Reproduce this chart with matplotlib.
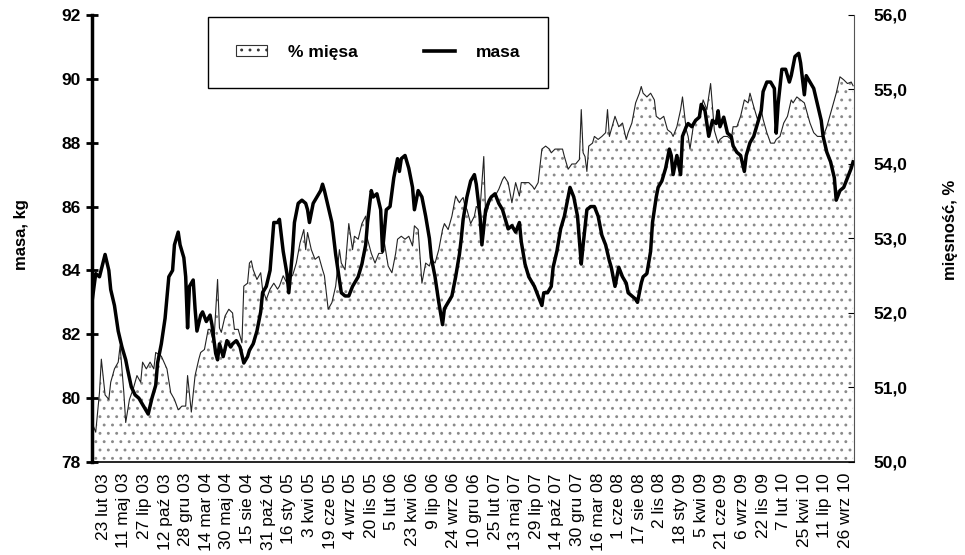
import matplotlib
matplotlib.use("Agg")
import matplotlib.pyplot as plt
from matplotlib.patches import Patch
from matplotlib.lines import Line2D
from matplotlib.ticker import FuncFormatter

plt.rcParams['font.family'] = ['Liberation Sans', 'DejaVu Sans']
plt.rcParams['hatch.linewidth'] = 0.9

# weekly series (week 0 = 12 Jan 2003)
masa_weeks = [0, 2, 4, 7, 9, 10, 12, 14, 16, 18, 19, 21, 23, 25, 27, 28, 30, 32, 34, 35,
              37, 39, 41, 43, 44, 46, 47, 49, 50, 51, 52, 54, 55, 56, 58, 59, 61, 63, 64, 66,
              67, 68, 70, 72, 74, 75, 77, 79, 81, 83, 84, 86, 88, 90, 91, 93, 95, 97, 99, 100,
              102, 104, 105, 107, 108, 110, 112, 114, 115, 116, 118, 120, 122, 123, 124, 126, 128, 130, 131, 132,
              133, 135, 137, 139, 140, 142, 144, 146, 147, 149, 150, 152, 154, 155, 157, 159, 161, 163, 164, 165,
              167, 169, 171, 172, 174, 176, 178, 180, 181, 183, 185, 187, 188, 190, 192, 194, 196, 197, 198, 200,
              202, 204, 205, 207, 208, 210, 212, 213, 215, 217, 219, 220, 222, 224, 226, 228, 229, 231, 233, 235,
              236, 238, 240, 241, 243, 245, 246, 248, 250, 252, 254, 255, 257, 259, 261, 262, 264, 266, 268, 270,
              272, 274, 276, 277, 279, 281, 283, 285, 286, 288, 290, 291, 293, 294, 296, 298, 299, 301, 302, 304,
              306, 308, 309, 310, 312, 314, 315, 317, 318, 320, 322, 324, 325, 327, 329, 331, 333, 334, 335, 337,
              339, 341, 342, 344, 346, 348, 349, 351, 353, 355, 357, 358, 360, 362, 364, 365, 366, 368, 370, 372,
              373, 375, 377, 378, 380, 381, 383, 385, 387, 389, 390, 392, 394, 396, 397, 399, 401, 403, 405, 406]
masa = [83.0, 83.9, 83.8, 84.5, 84.0, 83.4, 82.9, 82.1, 81.6, 81.2, 80.9, 80.35, 80.1, 80.0, 79.8, 79.7, 79.5, 80.0, 80.4, 81.1,
        81.7, 82.5, 83.8, 84.0, 84.8, 85.2, 84.8, 84.4, 83.8, 82.2, 83.5, 83.7, 82.8, 82.1, 82.6, 82.7, 82.4, 82.6, 82.3, 81.4,
        81.2, 81.7, 81.3, 81.8, 81.6, 81.7, 81.8, 81.6, 81.1, 81.3, 81.5, 81.7, 82.1, 82.7, 83.3, 83.5, 84.0, 85.5, 85.5, 85.6,
        84.6, 83.9, 83.3, 84.6, 85.5, 86.1, 86.2, 86.1, 85.9, 85.5, 86.1, 86.3, 86.5, 86.7, 86.5, 86.0, 85.5, 84.5, 84.1, 83.7,
        83.3, 83.2, 83.2, 83.5, 83.6, 83.8, 84.2, 84.8, 85.5, 86.5, 86.3, 86.4, 85.9, 84.6, 85.9, 86.0, 86.9, 87.5, 87.1, 87.5,
        87.6, 87.2, 86.6, 85.9, 86.5, 86.3, 85.7, 85.0, 84.4, 83.8, 83.0, 82.3, 82.8, 83.0, 83.2, 83.8, 84.5, 85.0, 85.6, 86.3,
        86.8, 87.0, 86.7, 85.7, 84.8, 85.9, 86.2, 86.3, 86.4, 86.1, 85.9, 85.7, 85.3, 85.4, 85.2, 85.5, 84.9, 84.2, 83.8, 83.6,
        83.5, 83.2, 82.9, 83.3, 83.3, 83.5, 84.1, 84.6, 85.3, 85.7, 86.3, 86.6, 86.3, 85.7, 84.2, 84.8, 85.9, 86.0, 86.0, 85.7,
        85.1, 84.8, 84.3, 84.1, 83.5, 84.1, 83.8, 83.6, 83.3, 83.2, 83.1, 83.0, 83.6, 83.8, 83.9, 84.6, 85.5, 86.3, 86.6, 86.8,
        87.2, 87.8, 87.6, 87.0, 87.6, 87.0, 88.2, 88.5, 88.6, 88.5, 88.7, 88.8, 89.2, 89.0, 88.2, 88.7, 88.6, 89.0, 88.5, 88.8,
        88.3, 88.2, 87.9, 87.7, 87.6, 87.1, 87.6, 88.0, 88.2, 88.6, 89.0, 89.6, 89.9, 89.9, 89.7, 88.3, 89.2, 90.3, 90.3, 89.9,
        90.1, 90.7, 90.8, 90.5, 89.5, 90.1, 89.9, 89.7, 89.2, 88.7, 88.2, 87.7, 87.4, 86.9, 86.2, 86.5, 86.6, 86.9, 87.2, 87.4]

miesa_weeks = [0, 2, 4, 5, 7, 9, 10, 12, 14, 15, 17, 18, 20, 22, 24, 26, 27, 29, 31, 33,
               34, 37, 40, 42, 44, 46, 48, 50, 51, 53, 55, 57, 58, 60, 62, 63, 65, 67, 68, 69,
               71, 73, 75, 76, 78, 80, 81, 83, 84, 85, 86, 88, 90, 91, 93, 95, 97, 99, 100, 102,
               104, 106, 107, 109, 111, 113, 114, 115, 117, 119, 121, 123, 124, 126, 128, 130, 131, 132, 133, 135,
               137, 139, 140, 142, 144, 146, 147, 149, 151, 153, 155, 156, 158, 160, 162, 163, 165, 167, 169, 171,
               172, 174, 176, 178, 180, 181, 183, 185, 187, 188, 190, 192, 194, 196, 197, 198, 199, 200, 202, 204,
               205, 207, 209, 210, 212, 213, 215, 217, 219, 220, 222, 224, 226, 228, 229, 231, 233, 235, 236, 238,
               240, 242, 244, 245, 247, 249, 251, 252, 254, 256, 258, 260, 261, 262, 263, 264, 265, 267, 268, 270,
               272, 274, 275, 276, 277, 279, 281, 283, 285, 286, 288, 290, 292, 293, 294, 296, 298, 300, 301, 303,
               305, 307, 309, 310, 312, 314, 315, 317, 318, 319, 321, 323, 325, 326, 328, 330, 332, 334, 335, 337,
               339, 341, 342, 344, 346, 348, 350, 351, 353, 355, 357, 358, 360, 362, 364, 365, 367, 369, 371, 373,
               374, 376, 378, 380, 381, 383, 385, 387, 389, 390, 392, 394, 396, 397, 399, 401, 403, 405, 406]
miesa = [50.53, 50.4, 50.93, 51.38, 50.9, 50.84, 51.07, 51.25, 51.34, 51.56, 50.93, 50.53, 50.84, 50.98, 51.16, 51.07, 51.34, 51.25, 51.34, 51.25,
         51.47, 51.42, 51.25, 50.93, 50.84, 50.7, 50.75, 50.75, 51.16, 50.67, 51.16, 51.38, 51.47, 51.51, 51.78, 51.78, 51.6, 52.45, 51.8, 51.74,
         51.96, 52.05, 52.0, 51.78, 51.78, 51.6, 52.36, 52.4, 52.67, 52.7, 52.58, 52.45, 52.54, 52.32, 52.18, 52.32, 52.4, 52.32, 52.36, 52.5,
         52.4, 52.5, 52.5, 52.67, 52.94, 53.12, 52.85, 53.08, 52.85, 52.72, 52.76, 52.58, 52.5, 52.05, 52.14, 52.36, 52.6, 52.85, 52.67, 52.58,
         53.2, 52.85, 53.03, 52.99, 53.2, 53.3, 52.99, 52.8, 52.67, 52.8, 52.8, 52.94, 52.63, 52.54, 52.8, 52.99, 53.03, 52.99, 53.03, 52.9,
         53.17, 53.12, 52.4, 52.67, 52.63, 52.72, 52.67, 52.85, 53.12, 53.2, 53.12, 53.3, 53.57, 53.48, 53.52, 53.55, 53.43, 53.39, 53.2, 53.3,
         53.43, 53.39, 54.1, 53.3, 53.48, 53.57, 53.57, 53.66, 53.79, 53.83, 53.75, 53.48, 53.75, 53.57, 53.75, 53.75, 53.75, 53.7, 53.66, 53.75,
         54.2, 54.24, 54.2, 54.15, 54.2, 54.2, 54.2, 54.1, 53.93, 54.0, 54.0, 54.06, 54.73, 54.15, 54.1, 53.9, 54.24, 54.28, 54.37, 54.33,
         54.37, 54.42, 54.73, 54.37, 54.46, 54.64, 54.5, 54.55, 54.33, 54.42, 54.55, 54.82, 54.95, 55.04, 54.95, 54.9, 54.95, 54.86, 54.64, 54.6,
         54.64, 54.46, 54.42, 54.37, 54.5, 54.73, 54.9, 54.46, 54.37, 54.2, 54.55, 54.6, 54.73, 54.86, 54.73, 55.08, 54.45, 54.28, 54.33, 54.37,
         54.37, 54.33, 54.5, 54.5, 54.64, 54.86, 54.82, 54.95, 54.77, 54.6, 54.73, 54.6, 54.42, 54.28, 54.28, 54.33, 54.37, 54.55, 54.64, 54.86,
         54.82, 54.9, 54.86, 54.82, 54.73, 54.55, 54.42, 54.37, 54.37, 54.37, 54.5, 54.68, 54.86, 54.95, 55.17, 55.13, 55.08, 55.1, 55.05]

tick_labels = ['23 lut 03', '11 maj 03', '27 lip 03', '12 paź 03', '28 gru 03', '14 mar 04', '30 maj 04',
               '15 sie 04', '31 paź 04', '16 sty 05', '3 kwi 05', '19 cze 05', '4 wrz 05', '20 lis 05',
               '5 lut 06', '23 kwi 06', '9 lip 06', '24 wrz 06', '10 gru 06', '25 lut 07', '13 maj 07',
               '29 lip 07', '14 paź 07', '30 gru 07', '16 mar 08', '1 cze 08', '17 sie 08', '2 lis 08',
               '18 sty 09', '5 kwi 09', '21 cze 09', '6 wrz 09', '22 lis 09', '7 lut 10', '25 kwi 10',
               '11 lip 10', '26 wrz 10']
tick_weeks = [6 + 11 * i for i in range(len(tick_labels))]

fig = plt.figure(figsize=(9.65, 5.55), dpi=100)
ax = fig.add_axes([0.0953, 0.1676, 0.7897, 0.8054])
ax2 = ax.twinx()

# % mięsa area on right axis
ax2.fill_between(miesa_weeks, 50, miesa, facecolor='white', edgecolor='#8a8a8a',
                 linewidth=0, hatch='..')
ax2.plot(miesa_weeks, miesa, color='#222222', lw=0.8)
ax2.set_ylim(50, 56)
ax2.set_yticks([50, 51, 52, 53, 54, 55, 56])
ax2.yaxis.set_major_formatter(FuncFormatter(lambda v, p: f"{v:.1f}".replace('.', ',')))

# masa on left axis, drawn on top
ax.set_zorder(ax2.get_zorder() + 1)
ax.patch.set_visible(False)
ax.plot(masa_weeks, masa, color='black', lw=2.5, solid_joinstyle='round')
ax.set_ylim(78, 92)
ax.set_yticks(range(78, 93, 2))
ax.set_xlim(0, 406.5)
ax.set_xticks(tick_weeks)
ax.set_xticklabels(tick_labels, rotation=90, fontsize=12.5)
ax.tick_params(axis='x', length=0, pad=8)
ax.tick_params(axis='y', direction='inout', length=8, width=2, labelsize=12.5, pad=4)
for lab in ax.get_yticklabels():
    lab.set_fontweight('bold')

ax2.tick_params(axis='y', direction='in', length=4, width=0.8, labelsize=12.5, pad=14)
for lab in ax2.get_yticklabels():
    lab.set_fontweight('bold')

for a in (ax, ax2):
    a.spines['top'].set_visible(False)
ax.spines['left'].set_linewidth(2.5)
ax.spines['right'].set_visible(False)
ax.spines['bottom'].set_linewidth(1.2)
ax2.spines['left'].set_visible(False)
ax2.spines['bottom'].set_visible(False)
ax2.spines['right'].set_linewidth(0.8)
ax2.spines['right'].set_color('#555555')

fig.text(0.022, 0.578, 'masa, kg', rotation=90, ha='center', va='center',
         fontsize=12, fontweight='bold')
fig.text(0.985, 0.585, 'mięsność, %', rotation=90, ha='center', va='center',
         fontsize=12, fontweight='bold')

handles = [Patch(facecolor='white', edgecolor='#333333', hatch='..', linewidth=0.8),
           Line2D([0], [0], color='black', lw=2.6)]
leg = fig.legend(handles, ['% mięsa', 'masa'], ncol=2, loc='upper left',
                 bbox_to_anchor=(0.2155, 0.969, 0.3525, 0.0), mode='expand',
                 borderaxespad=0, frameon=True, fancybox=False, edgecolor='black',
                 framealpha=1, borderpad=1.6, handlelength=1.8, handleheight=0.6,
                 handletextpad=1.2, columnspacing=3.5,
                 prop={'weight': 'bold', 'size': 12.5})
leg.get_frame().set_linewidth(1.0)

fig.savefig('out.png', dpi=100)
